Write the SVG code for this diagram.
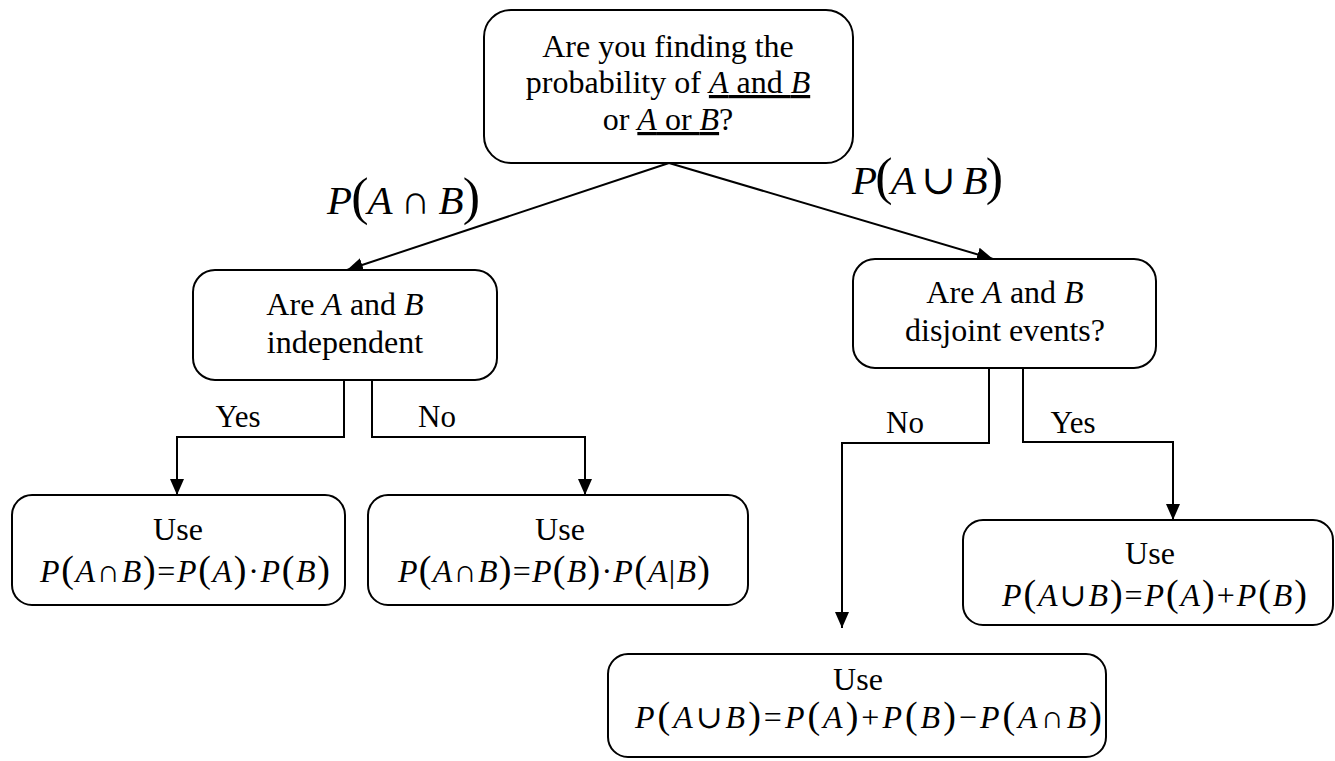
<svg xmlns="http://www.w3.org/2000/svg" width="1335" height="761" viewBox="0 0 1335 761">
<style>
text{font-family:'Liberation Serif','Times New Roman',Tinos,'Noto Serif','DejaVu Serif',serif;fill:#000}
.box{fill:#fff;stroke:#000;stroke-width:2}
.t{font-size:32px;text-anchor:middle}
.yn{font-size:31px;text-anchor:middle}
.i{font-style:italic}
.u{text-decoration:underline}
.m{font-size:32px;font-style:italic}
.p{font-style:normal;font-size:38px}
.lbl{font-size:41px;font-style:italic}
.lp{font-style:normal;font-size:52px}
.op{font-style:normal}
.c{fill:none;stroke:#000;stroke-width:2}
</style>
<defs>
<marker id="ah" markerUnits="userSpaceOnUse" markerWidth="16" markerHeight="14" refX="16" refY="7" orient="auto">
<path d="M0,0 L16,7 L0,14 z" fill="#000"/>
</marker>
</defs>
<g id="connectors">
<line class="c" x1="669" y1="163" x2="347" y2="270" marker-end="url(#ah)"/>
<line class="c" x1="669" y1="163" x2="993" y2="259" marker-end="url(#ah)"/>
<polyline class="c" points="344,380 344,437 177,437 177,495" marker-end="url(#ah)"/>
<polyline class="c" points="372,380 372,437 585,437 585,495" marker-end="url(#ah)"/>
<polyline class="c" points="989,368 989,443 842,443 842,628" marker-end="url(#ah)"/>
<polyline class="c" points="1023,368 1023,442 1173,442 1173,520" marker-end="url(#ah)"/>
<text class="lbl" x="327" y="214" textLength="153" lengthAdjust="spacing">P<tspan class="lp">(</tspan>A <tspan class="op">∩</tspan> B<tspan class="lp">)</tspan></text>
<text class="lbl" x="852" y="194" textLength="151" lengthAdjust="spacing">P<tspan class="lp">(</tspan>A <tspan class="op">∪</tspan> B<tspan class="lp">)</tspan></text>
<text class="yn" x="238" y="427">Yes</text>
<text class="yn" x="437" y="427">No</text>
<text class="yn" x="905" y="433">No</text>
<text class="yn" x="1073" y="433">Yes</text>
</g>
<g id="start">
<rect class="box" x="484" y="10" width="369" height="153" rx="27"/>
<text class="t" x="668" y="57">Are you finding the</text>
<text class="t" x="668" y="93">probability of <tspan class="u"><tspan class="i">A</tspan> and <tspan class="i">B</tspan></tspan></text>
<text class="t" x="668" y="130">or <tspan class="u"><tspan class="i">A</tspan> or <tspan class="i">B</tspan></tspan>?</text>
</g>
<g id="independent">
<rect class="box" x="193" y="270" width="304" height="110" rx="22"/>
<text class="t" x="345" y="315">Are <tspan class="i">A</tspan> and <tspan class="i">B</tspan></text>
<text class="t" x="345" y="353">independent</text>
</g>
<g id="disjoint">
<rect class="box" x="853" y="259" width="303" height="109" rx="22"/>
<text class="t" x="1005" y="303">Are <tspan class="i">A</tspan> and <tspan class="i">B</tspan></text>
<text class="t" x="1005" y="341">disjoint events?</text>
</g>
<g id="mult-indep">
<rect class="box" x="12" y="495" width="333" height="110" rx="20"/>
<text class="t" x="178" y="540">Use</text>
<text class="m" x="40" y="582" textLength="290" lengthAdjust="spacing">P<tspan class="p">(</tspan>A<tspan class="op">∩</tspan>B<tspan class="p">)</tspan><tspan class="op">=</tspan>P<tspan class="p">(</tspan>A<tspan class="p">)</tspan><tspan class="op">·</tspan>P<tspan class="p">(</tspan>B<tspan class="p">)</tspan></text>
</g>
<g id="mult-dep">
<rect class="box" x="368" y="495" width="380" height="110" rx="20"/>
<text class="t" x="560" y="540">Use</text>
<text class="m" x="398" y="582" textLength="312" lengthAdjust="spacing">P<tspan class="p">(</tspan>A<tspan class="op">∩</tspan>B<tspan class="p">)</tspan><tspan class="op">=</tspan>P<tspan class="p">(</tspan>B<tspan class="p">)</tspan><tspan class="op">·</tspan>P<tspan class="p">(</tspan>A<tspan class="op">|</tspan>B<tspan class="p">)</tspan></text>
</g>
<g id="add-disjoint">
<rect class="box" x="963" y="520" width="370" height="105" rx="20"/>
<text class="t" x="1150" y="564">Use</text>
<text class="m" x="1002" y="606" textLength="305" lengthAdjust="spacing">P<tspan class="p">(</tspan>A<tspan class="op">∪</tspan>B<tspan class="p">)</tspan><tspan class="op">=</tspan>P<tspan class="p">(</tspan>A<tspan class="p">)</tspan><tspan class="op">+</tspan>P<tspan class="p">(</tspan>B<tspan class="p">)</tspan></text>
</g>
<g id="add-general">
<rect class="box" x="608" y="654" width="498" height="103" rx="20"/>
<text class="t" x="858" y="690">Use</text>
<text class="m" x="635" y="728" textLength="467" lengthAdjust="spacing">P<tspan class="p">(</tspan>A<tspan class="op">∪</tspan>B<tspan class="p">)</tspan><tspan class="op">=</tspan>P<tspan class="p">(</tspan>A<tspan class="p">)</tspan><tspan class="op">+</tspan>P<tspan class="p">(</tspan>B<tspan class="p">)</tspan><tspan class="op">−</tspan>P<tspan class="p">(</tspan>A<tspan class="op">∩</tspan>B<tspan class="p">)</tspan></text>
</g>
</svg>
